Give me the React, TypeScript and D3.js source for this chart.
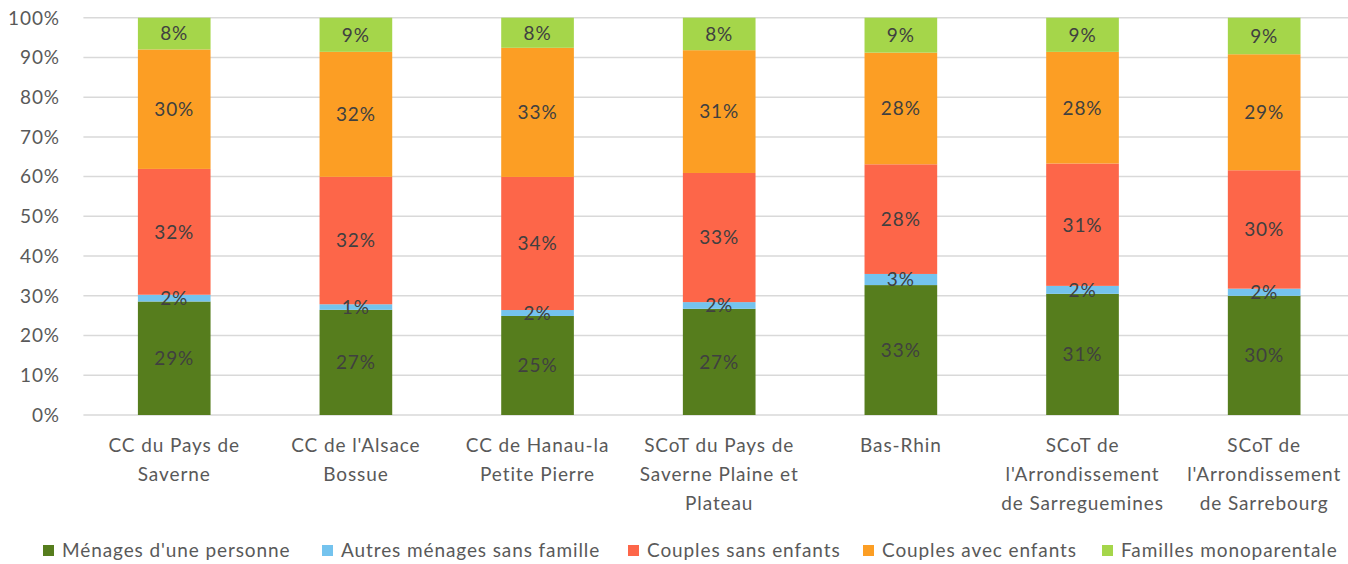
import React from "react";
import * as d3 from "d3";

const categories = [
  "CC du Pays de\nSaverne",
  "CC de l'Alsace\nBossue",
  "CC de Hanau-la\nPetite Pierre",
  "SCoT du Pays de\nSaverne Plaine et\nPlateau",
  "Bas-Rhin",
  "SCoT de\nl'Arrondissement\nde Sarreguemines",
  "SCoT de\nl'Arrondissement\nde Sarrebourg",
];

const seriesNames = [
  "Ménages d'une personne",
  "Autres ménages sans famille",
  "Couples sans enfants",
  "Couples avec enfants",
  "Familles monoparentale",
];

const seriesColors = ["#567D1D", "#74C3EE", "#FD6649", "#FC9E24", "#A5D64A"];

const menagesUnePersonne = [28.6, 26.5, 25.0, 26.8, 32.7, 30.5, 30.0];
const autresMenages = [1.7, 1.4, 1.5, 1.7, 2.8, 2.0, 1.8];
const couplesSansEnfants = [31.7, 32.1, 33.6, 32.6, 27.6, 30.8, 29.8];
const couplesAvecEnfants = [30.1, 31.5, 32.6, 31.0, 28.1, 28.1, 29.2];
const famillesMono = [8.0, 8.6, 7.6, 8.2, 8.8, 8.6, 9.2];

const yTicks = [0, 0.1, 0.2, 0.3, 0.4, 0.5, 0.6, 0.7, 0.8, 0.9, 1.0];

const W = 1348;
const H = 564;
const margin = { left: 83.4, right: 1355, top: 17.7, bottom: 415 };
const FONT = "Lato, 'Noto Sans', sans-serif";
const LS = 0.9;

export default function App() {
  const seriesValues = [
    menagesUnePersonne,
    autresMenages,
    couplesSansEnfants,
    couplesAvecEnfants,
    famillesMono,
  ];
  const rows = categories.map((c, i) => {
    const r: any = { cat: c };
    seriesNames.forEach((s, j) => (r[s] = seriesValues[j][i]));
    return r;
  });
  const stacked = d3
    .stack<any>()
    .keys(seriesNames)
    .offset(d3.stackOffsetExpand)(rows);

  const x = d3
    .scaleBand<string>()
    .domain(categories)
    .range([margin.left, margin.right])
    .paddingInner(0.6)
    .paddingOuter(0.3);
  const y = d3.scaleLinear().domain([0, 1]).range([margin.bottom, margin.top]);
  const fmt = d3.format(".0%");

  const legendX = [43, 322, 628, 863, 1102];

  return (
    <svg
      width={W}
      height={H}
      style={{ position: "absolute", left: 0, top: 0, background: "#fff" }}
      fontFamily={FONT}
      letterSpacing={LS}
    >
      {yTicks.map((t) => (
        <g key={t}>
          <line
            x1={margin.left}
            x2={W}
            y1={y(t)}
            y2={y(t)}
            stroke="#D9D9D9"
            strokeWidth={1.5}
          />
          <text
            x={60}
            y={y(t)}
            dy="0.36em"
            textAnchor="end"
            fontSize={19}
            fill="#595959"
          >
            {fmt(t)}
          </text>
        </g>
      ))}
      {stacked.map((s, j) => (
        <g key={s.key} fill={seriesColors[j]}>
          {s.map((d, i) => {
            const x0 = x(categories[i])!;
            const y0 = y(d[1]);
            const h = y(d[0]) - y(d[1]);
            return (
              <rect
                key={i}
                x={x0}
                y={y0}
                width={x.bandwidth()}
                height={h}
              />
            );
          })}
        </g>
      ))}
      {stacked.map((s, j) => (
        <g key={"l" + s.key}>
          {s.map((d, i) => {
            const cx = x(categories[i])! + x.bandwidth() / 2;
            const cy = (y(d[0]) + y(d[1])) / 2;
            const v = seriesValues[j][i];
            return (
              <text
                key={i}
                x={cx}
                y={cy}
                dy="0.36em"
                textAnchor="middle"
                fontSize={19}
                fill="#404040"
              >
                {Math.round(v) + "%"}
              </text>
            );
          })}
        </g>
      ))}
      {categories.map((c) => {
        const lines = c.split("\n");
        const cx = x(c)! + x.bandwidth() / 2;
        return (
          <text key={c} textAnchor="middle" fontSize={19} fill="#595959">
            {lines.map((l, k) => (
              <tspan key={k} x={cx} y={452 + k * 29}>
                {l}
              </tspan>
            ))}
          </text>
        );
      })}
      {seriesNames.map((s, j) => (
        <g key={s}>
          <rect
            x={legendX[j]}
            y={545}
            width={11}
            height={11}
            fill={seriesColors[j]}
          />
          <text x={legendX[j] + 19} y={557} fontSize={19} fill="#595959">
            {s}
          </text>
        </g>
      ))}
    </svg>
  );
}
